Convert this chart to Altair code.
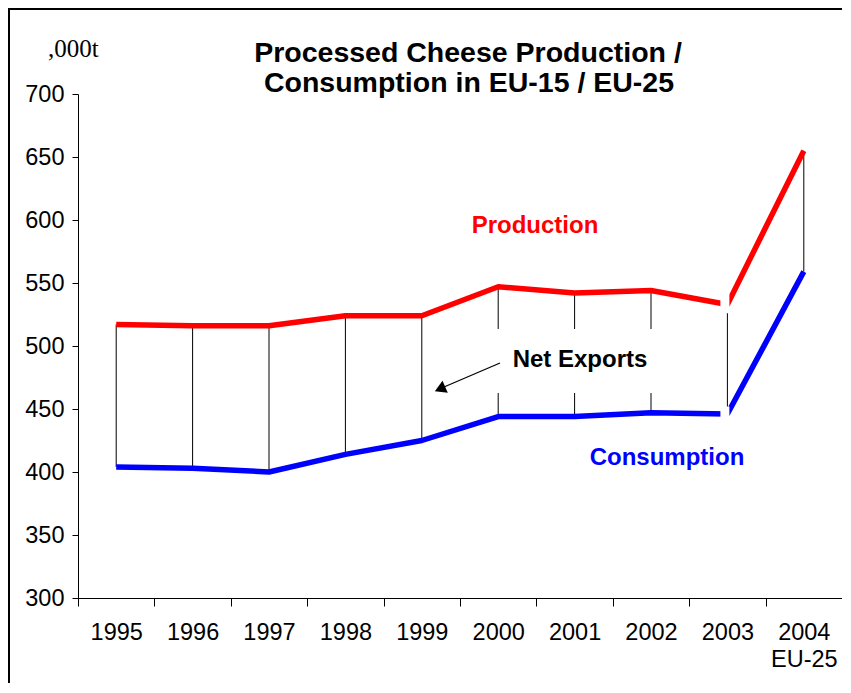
import altair as alt
import pandas as pd

# ---- data ----
years = ["1995", "1996", "1997", "1998", "1999", "2000", "2001", "2002", "2003", "2004"]
production = [517, 516, 516, 524, 524, 547, 542, 544, 533, 655]
consumption = [404, 403, 400, 414, 425, 444, 444, 447, 446, 559]
y_ticks = [300, 350, 400, 450, 500, 550, 600, 650, 700]
series_names = ["Production", "Consumption"]
series_colors = ["#ff0000", "#0000ff"]
title_lines = ["Processed Cheese Production /", "Consumption in EU-15 / EU-25"]
unit_label = ",000t"
break_year = "2003"          # EU-15 -> EU-25 break in the lines
last_label = ["2004", "EU-25"]

df = pd.DataFrame({"year": years, "Production": production, "Consumption": consumption})
long = df.melt("year", value_vars=series_names, var_name="series", value_name="value")

# white break marks over both lines at the EU-15 / EU-25 change
bi = years.index(break_year)
brk = pd.DataFrame({
    "year": [break_year, break_year],
    "top": [production[bi] + 8, consumption[bi] + 6],
    "bot": [production[bi] - 7, consumption[bi] - 6],
})
one = pd.DataFrame({"k": [0]})

W, H = 764, 504
FONT = "Arial, Liberation Sans, sans-serif"
SERIF = "Times New Roman, Liberation Serif, serif"

xscale = alt.Scale(type="band", domain=years, paddingInner=0, paddingOuter=0)
yscale = alt.Scale(domain=[300, 700], nice=False, zero=False)

x_axis = alt.Axis(
    title=None, labelAngle=0, tickBand="extent", tickSize=8, labelPadding=14,
    labelFontSize=23.5, labelFont=FONT, labelColor="black", domainColor="black",
    tickColor="black", grid=False, labelLineHeight=27,
    labelExpr="datum.value == '2004' ? ['%s', '%s'] : datum.value" % (last_label[0], last_label[1]),
)
y_axis = alt.Axis(
    title=None, values=y_ticks, tickSize=6, labelPadding=8, labelFontSize=23.5,
    labelFont=FONT, labelColor="black", domainColor="black", tickColor="black", grid=False,
)

hilo = alt.Chart(df).mark_rule(color="black", strokeWidth=1).encode(
    x=alt.X("year:N", scale=xscale, axis=x_axis, title=None),
    y=alt.Y("Production:Q", scale=yscale, axis=y_axis, title=None),
    y2="Consumption:Q",
)

lines = alt.Chart(long).mark_line(strokeWidth=5.5, strokeJoin="round").encode(
    x=alt.X("year:N", scale=xscale, title=None),
    y=alt.Y("value:Q", scale=yscale, title=None),
    color=alt.Color("series:N", scale=alt.Scale(domain=series_names, range=series_colors), legend=None),
    detail="series:N",
)

breaks = alt.Chart(brk).mark_rule(color="white", strokeWidth=9, xOffset=-2.5).encode(
    x=alt.X("year:N", scale=xscale, title=None),
    y=alt.Y("top:Q", scale=yscale, title=None),
    y2="bot:Q",
)

box = alt.Chart(one).mark_rect(color="white").encode(
    x=alt.value(402), x2=alt.value(592), y=alt.value(235), y2=alt.value(299)
)

def label(text, x, y, size, color="black", font=FONT, weight="bold", align="center"):
    return alt.Chart(one).mark_text(
        text=text, font=font, fontSize=size, fontWeight=weight, color=color,
        align=align, baseline="alphabetic",
    ).encode(x=alt.value(x), y=alt.value(y))

t1 = label(title_lines[0], 390, -32, 28.5)
t2 = label(title_lines[1], 391, -2, 28.5)
unit = label(unit_label, -30, -37, 25, font=SERIF, weight="normal", align="left")
prod_lbl = label(series_names[0], 457, 139, 24, color=series_colors[0])
cons_lbl = label(series_names[1], 589, 371, 24, color=series_colors[1])
net_lbl = label("Net Exports", 502, 273, 24)

arrow_line = alt.Chart(one).mark_rule(color="black", strokeWidth=1.3).encode(
    x=alt.value(422), x2=alt.value(366), y=alt.value(269), y2=alt.value(293)
)
arrow_head = alt.Chart(one).mark_point(
    shape="triangle-up", filled=True, color="black", size=170, angle=246, opacity=1
).encode(x=alt.value(362), y=alt.value(295))

frame_top = alt.Chart(one).mark_rule(color="black", strokeWidth=2).encode(
    x=alt.value(-70), x2=alt.value(W + 2), y=alt.value(-85)
)
frame_left = alt.Chart(one).mark_rule(color="black", strokeWidth=2).encode(
    x=alt.value(-69), y=alt.value(-86), y2=alt.value(H + 86)
)

chart = alt.layer(
    hilo, lines, breaks, box, t1, t2, unit, prod_lbl, cons_lbl, net_lbl,
    arrow_line, arrow_head, frame_top, frame_left,
).properties(
    width=W, height=H,
    autosize=alt.AutoSizeParams(type="none"),
    padding={"left": 70, "top": 86, "right": 0, "bottom": 85},
    background="white",
).configure_view(stroke=None)

chart.save("out.html", embed_options={"renderer": "svg", "actions": False})
